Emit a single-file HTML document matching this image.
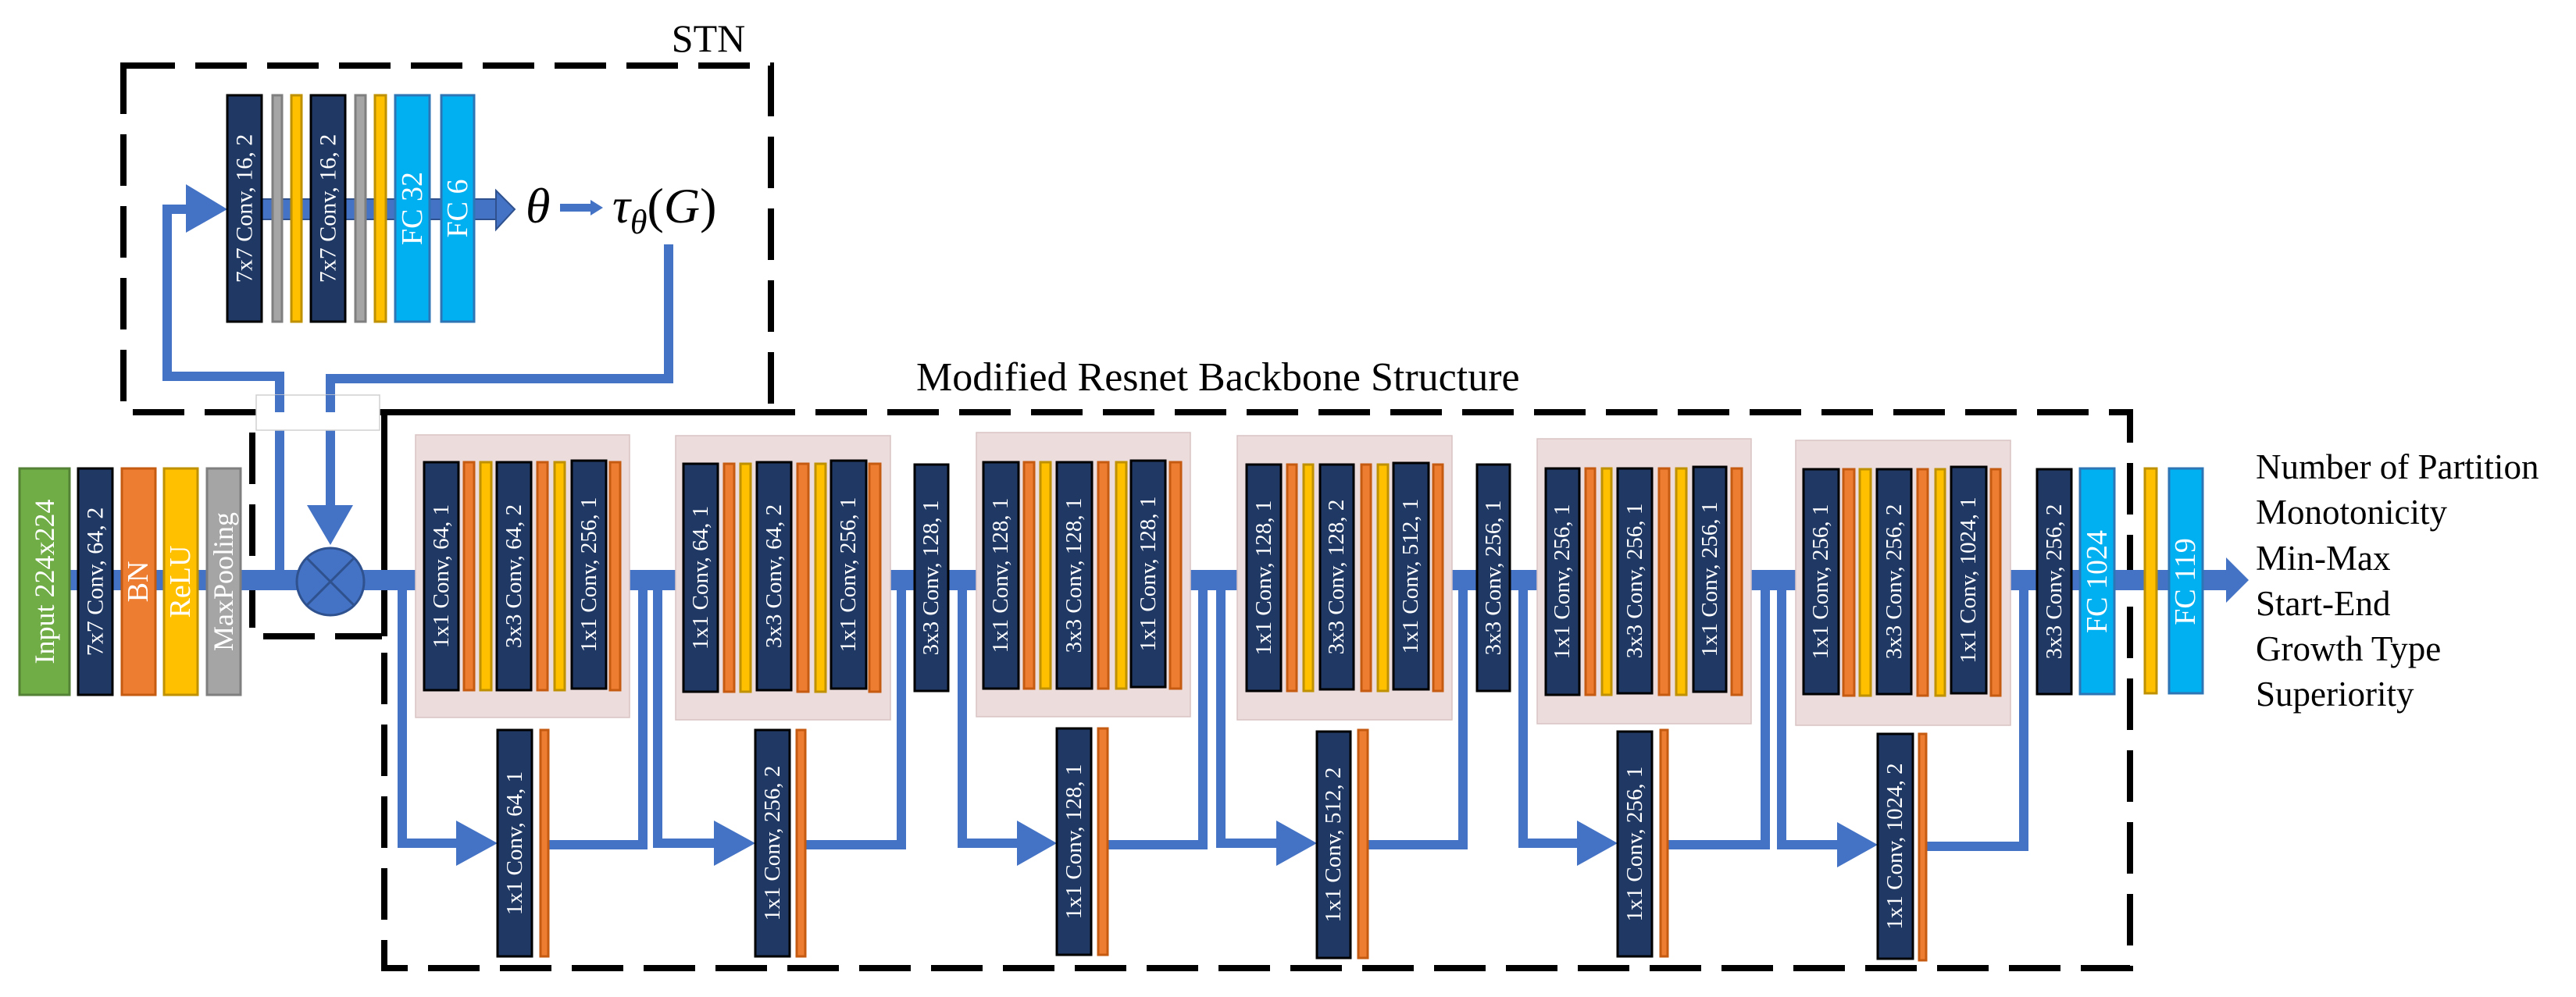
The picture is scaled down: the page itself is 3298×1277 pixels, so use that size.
<!DOCTYPE html>
<html><head><meta charset="utf-8"><style>
html,body{margin:0;padding:0;background:#fff;}
svg{display:block;}
text{font-family:"Liberation Serif",serif;}
.w{fill:#fff;text-anchor:middle;dominant-baseline:central;}
.nv{fill:#203864;stroke:#000;stroke-width:3;}
.or{fill:#ed7d31;stroke:#c55a11;stroke-width:3;}
.ye{fill:#ffc000;stroke:#bf9000;stroke-width:3;}
.gr{fill:#a5a5a5;stroke:#7f7f7f;stroke-width:3;}
.cy{fill:#00b0f0;stroke:#2e75b6;stroke-width:3;}
.pk{fill:#ecdcdc;stroke:#d9c3c3;stroke-width:1.5;}
.ln{stroke:#4472c4;stroke-width:12;fill:none;}
.ds{stroke:#000;stroke-width:8;fill:none;stroke-dasharray:66 26;}
</style></head><body>
<svg width="3298" height="1277" viewBox="0 0 3298 1277" xmlns="http://www.w3.org/2000/svg">
<!-- STN box -->
<text x="907" y="66" font-size="50" text-anchor="middle">STN</text>
<path class="ds" d="M158 84 H987 V528 H158 Z"/>
<!-- STN loops -->
<path class="ln" d="M240 268 H214 V482 H358 V742"/>
<polygon points="238,236 291,268 238,298" fill="#4472c4"/>
<path class="ln" d="M856 313 V485 H423 V650"/>
<polygon points="393,647 452,647 423,698" fill="#4472c4"/>
<!-- STN main arrow -->
<rect x="291" y="255" width="345" height="26" fill="#4472c4" stroke="#2f528f" stroke-width="2"/>
<polygon points="635,244 659,268 635,294" fill="#4472c4" stroke="#2f528f" stroke-width="2"/>
<rect class="nv" x="291" y="122" width="44" height="290"/><text class="w" font-size="30" transform="translate(313,267) rotate(-90)">7x7 Conv, 16, 2</text>
<rect class="gr" x="349" y="122" width="12" height="290"/>
<rect class="ye" x="373" y="122" width="13" height="290"/>
<rect class="nv" x="398" y="122" width="44" height="290"/><text class="w" font-size="30" transform="translate(420,267) rotate(-90)">7x7 Conv, 16, 2</text>
<rect class="gr" x="455" y="122" width="13" height="290"/>
<rect class="ye" x="480" y="122" width="14" height="290"/>
<rect class="cy" x="506" y="122" width="44" height="290"/><text class="w" font-size="38" transform="translate(528,267) rotate(-90)">FC 32</text>
<rect class="cy" x="565" y="122" width="42" height="290"/><text class="w" font-size="38" transform="translate(586,267) rotate(-90)">FC 6</text>
<text x="673" y="285" font-size="64" font-style="italic" font-family="Liberation Serif">θ</text>
<line x1="717" y1="266" x2="758" y2="266" stroke="#4472c4" stroke-width="10"/>
<polygon points="756,256 772,266 756,276" fill="#4472c4"/>
<text x="784" y="285" font-size="64" font-style="italic">τ<tspan font-size="44" dy="14">θ</tspan><tspan dy="-14" font-style="normal">(</tspan>G<tspan font-style="normal">)</tspan></text>
<!-- white box -->
<rect x="328" y="506" width="158" height="45" fill="#fff" stroke="#d0d0d0" stroke-width="1.5"/>
<!-- small dashed box -->
<path class="ds" d="M323 554 V804"/>
<path class="ds" d="M337 815 H489"/>
<!-- main box -->
<text x="1173" y="500" font-size="52">Modified Resnet Backbone Structure</text>
<path class="ds" d="M492 528 H2727 V1240 H492 Z"/>
<path d="M492 528 H1010 M492 528 V815" stroke="#000" stroke-width="8"/>
<path d="M358 506 V528" stroke="#4472c4" stroke-width="12"/>
<path d="M423 506 V528" stroke="#4472c4" stroke-width="12"/>
<!-- main line -->
<rect x="89" y="730" width="2763" height="26" fill="#4472c4"/>
<polygon points="2850,714 2879,743 2850,772" fill="#4472c4"/>
<circle cx="423" cy="745" r="43" fill="#4472c4" stroke="#2f528f" stroke-width="3"/>
<path d="M393 715 L453 775 M453 715 L393 775" stroke="#2f528f" stroke-width="3"/>
<!-- input blocks -->
<rect x="25" y="600" width="64" height="290" fill="#70ad47" stroke="#538135" stroke-width="3"/><text class="w" font-size="36" transform="translate(57,745) rotate(-90)">Input 224x224</text>
<rect class="nv" x="100" y="600" width="44" height="290"/><text class="w" font-size="30" transform="translate(122,745) rotate(-90)">7x7 Conv, 64, 2</text>
<rect class="or" x="156" y="600" width="43" height="290"/><text class="w" font-size="38" transform="translate(177,745) rotate(-90)">BN</text>
<rect class="ye" x="210" y="600" width="43" height="290"/><text class="w" font-size="38" transform="translate(231,745) rotate(-90)">ReLU</text>
<rect class="gr" x="265" y="600" width="43" height="290"/><text class="w" font-size="36" transform="translate(286,745) rotate(-90)">MaxPooling</text>
<!-- skip connections -->
<path class="ln" d="M515 756 V1080 H590"/><polygon points="584,1051 637,1080 584,1109" fill="#4472c4"/><path class="ln" d="M702 1082 H823 V756"/>
<path class="ln" d="M842 756 V1080 H920"/><polygon points="914,1051 967,1080 914,1109" fill="#4472c4"/><path class="ln" d="M1031 1082 H1154 V756"/>
<path class="ln" d="M1232 756 V1080 H1308"/><polygon points="1302,1051 1353,1080 1302,1109" fill="#4472c4"/><path class="ln" d="M1418 1082 H1540 V756"/>
<path class="ln" d="M1563 756 V1080 H1640"/><polygon points="1634,1051 1686,1080 1634,1109" fill="#4472c4"/><path class="ln" d="M1751 1082 H1873 V756"/>
<path class="ln" d="M1950 756 V1080 H2025"/><polygon points="2019,1051 2071,1080 2019,1109" fill="#4472c4"/><path class="ln" d="M2135 1082 H2260 V756"/>
<path class="ln" d="M2281 756 V1082 H2358"/><polygon points="2352,1053 2404,1082 2352,1111" fill="#4472c4"/><path class="ln" d="M2466 1084 H2591 V756"/>
<!-- pink blocks -->
<rect class="pk" x="532" y="557" width="274" height="362"/>
<rect class="pk" x="865" y="558" width="275" height="364"/>
<rect class="pk" x="1250" y="554" width="274" height="364"/>
<rect class="pk" x="1584" y="558" width="275" height="364"/>
<rect class="pk" x="1968" y="562" width="274" height="365"/>
<rect class="pk" x="2299" y="564" width="275" height="365"/>
<!-- block 1 -->
<rect class="nv" x="543" y="592" width="44" height="292"/><text class="w" font-size="29" transform="translate(565,738) rotate(-90)">1x1 Conv, 64, 1</text>
<rect class="or" x="594" y="592" width="13" height="292"/><rect class="ye" x="615" y="592" width="14" height="292"/>
<rect class="nv" x="636" y="592" width="44" height="292"/><text class="w" font-size="29" transform="translate(658,738) rotate(-90)">3x3 Conv, 64, 2</text>
<rect class="or" x="688" y="592" width="13" height="292"/><rect class="ye" x="710" y="592" width="13" height="292"/>
<rect class="nv" x="732" y="590" width="44" height="292"/><text class="w" font-size="29" transform="translate(754,736) rotate(-90)">1x1 Conv, 256, 1</text>
<rect class="or" x="781" y="592" width="13" height="292"/>
<!-- block 2 -->
<rect class="nv" x="875" y="594" width="44" height="292"/><text class="w" font-size="29" transform="translate(897,740) rotate(-90)">1x1 Conv, 64, 1</text>
<rect class="or" x="927" y="594" width="13" height="292"/><rect class="ye" x="948" y="594" width="13" height="292"/>
<rect class="nv" x="969" y="592" width="44" height="292"/><text class="w" font-size="29" transform="translate(991,738) rotate(-90)">3x3 Conv, 64, 2</text>
<rect class="or" x="1021" y="594" width="14" height="292"/><rect class="ye" x="1044" y="594" width="13" height="292"/>
<rect class="nv" x="1064" y="590" width="45" height="292"/><text class="w" font-size="29" transform="translate(1086,736) rotate(-90)">1x1 Conv, 256, 1</text>
<rect class="or" x="1113" y="594" width="14" height="292"/>
<!-- standalone 128 -->
<rect class="nv" x="1171" y="595" width="43" height="290"/><text class="w" font-size="29" transform="translate(1192,740) rotate(-90)">3x3 Conv, 128, 1</text>
<!-- block 3 -->
<rect class="nv" x="1259" y="592" width="45" height="290"/><text class="w" font-size="29" transform="translate(1281,737) rotate(-90)">1x1 Conv, 128, 1</text>
<rect class="or" x="1311" y="592" width="13" height="290"/><rect class="ye" x="1332" y="592" width="13" height="290"/>
<rect class="nv" x="1353" y="592" width="45" height="290"/><text class="w" font-size="29" transform="translate(1375,737) rotate(-90)">3x3 Conv, 128, 1</text>
<rect class="or" x="1406" y="592" width="13" height="290"/><rect class="ye" x="1429" y="592" width="13" height="290"/>
<rect class="nv" x="1448" y="590" width="44" height="290"/><text class="w" font-size="29" transform="translate(1470,735) rotate(-90)">1x1 Conv, 128, 1</text>
<rect class="or" x="1498" y="592" width="14" height="290"/>
<!-- block 4 -->
<rect class="nv" x="1596" y="595" width="44" height="290"/><text class="w" font-size="29" transform="translate(1618,740) rotate(-90)">1x1 Conv, 128, 1</text>
<rect class="or" x="1648" y="595" width="12" height="290"/><rect class="ye" x="1669" y="595" width="12" height="290"/>
<rect class="nv" x="1690" y="595" width="43" height="288"/><text class="w" font-size="29" transform="translate(1711,739) rotate(-90)">3x3 Conv, 128, 2</text>
<rect class="or" x="1743" y="595" width="12" height="290"/><rect class="ye" x="1764" y="595" width="13" height="290"/>
<rect class="nv" x="1784" y="593" width="45" height="290"/><text class="w" font-size="29" transform="translate(1806,738) rotate(-90)">1x1 Conv, 512, 1</text>
<rect class="or" x="1835" y="595" width="12" height="290"/>
<!-- standalone 256 -->
<rect class="nv" x="1891" y="595" width="42" height="290"/><text class="w" font-size="29" transform="translate(1912,740) rotate(-90)">3x3 Conv, 256, 1</text>
<!-- block 5 -->
<rect class="nv" x="1979" y="600" width="43" height="290"/><text class="w" font-size="29" transform="translate(2000,745) rotate(-90)">1x1 Conv, 256, 1</text>
<rect class="or" x="2030" y="600" width="12" height="290"/><rect class="ye" x="2051" y="600" width="12" height="290"/>
<rect class="nv" x="2071" y="600" width="44" height="288"/><text class="w" font-size="29" transform="translate(2093,744) rotate(-90)">3x3 Conv, 256, 1</text>
<rect class="or" x="2124" y="600" width="13" height="290"/><rect class="ye" x="2146" y="600" width="13" height="290"/>
<rect class="nv" x="2168" y="598" width="42" height="288"/><text class="w" font-size="29" transform="translate(2189,742) rotate(-90)">1x1 Conv, 256, 1</text>
<rect class="or" x="2217" y="600" width="13" height="290"/>
<!-- block 6 -->
<rect class="nv" x="2309" y="601" width="45" height="288"/><text class="w" font-size="29" transform="translate(2331,745) rotate(-90)">1x1 Conv, 256, 1</text>
<rect class="or" x="2360" y="601" width="14" height="290"/><rect class="ye" x="2381" y="601" width="14" height="290"/>
<rect class="nv" x="2403" y="601" width="44" height="288"/><text class="w" font-size="29" transform="translate(2425,745) rotate(-90)">3x3 Conv, 256, 2</text>
<rect class="or" x="2455" y="601" width="13" height="290"/><rect class="ye" x="2478" y="601" width="12" height="290"/>
<rect class="nv" x="2498" y="598" width="45" height="290"/><text class="w" font-size="29" transform="translate(2520,743) rotate(-90)">1x1 Conv, 1024, 1</text>
<rect class="or" x="2549" y="601" width="12" height="290"/>
<!-- final -->
<rect class="nv" x="2608" y="601" width="44" height="288"/><text class="w" font-size="29" transform="translate(2630,745) rotate(-90)">3x3 Conv, 256, 2</text>
<rect class="cy" x="2663" y="600" width="44" height="289"/><text class="w" font-size="38" transform="translate(2685,745) rotate(-90)">FC 1024</text>
<rect class="ye" x="2746" y="600" width="15" height="288"/>
<rect class="cy" x="2777" y="600" width="43" height="288"/><text class="w" font-size="38" transform="translate(2798,745) rotate(-90)">FC 119</text>
<!-- bottom convs -->
<rect class="nv" x="637" y="935" width="44" height="290"/><text class="w" font-size="29" transform="translate(659,1080) rotate(-90)">1x1 Conv, 64, 1</text><rect class="or" x="692" y="935" width="10" height="290"/>
<rect class="nv" x="967" y="935" width="44" height="290"/><text class="w" font-size="29" transform="translate(989,1080) rotate(-90)">1x1 Conv, 256, 2</text><rect class="or" x="1020" y="935" width="11" height="290"/>
<rect class="nv" x="1353" y="933" width="44" height="290"/><text class="w" font-size="29" transform="translate(1375,1078) rotate(-90)">1x1 Conv, 128, 1</text><rect class="or" x="1406" y="933" width="12" height="290"/>
<rect class="nv" x="1686" y="937" width="43" height="290"/><text class="w" font-size="29" transform="translate(1707,1082) rotate(-90)">1x1 Conv, 512, 2</text><rect class="or" x="1739" y="935" width="12" height="292"/>
<rect class="nv" x="2071" y="937" width="44" height="288"/><text class="w" font-size="29" transform="translate(2093,1081) rotate(-90)">1x1 Conv, 256, 1</text><rect class="or" x="2126" y="935" width="9" height="290"/>
<rect class="nv" x="2404" y="940" width="45" height="288"/><text class="w" font-size="29" transform="translate(2426,1084) rotate(-90)">1x1 Conv, 1024, 2</text><rect class="or" x="2457" y="940" width="9" height="290"/>
<!-- outputs -->
<g font-size="45" fill="#000">
<text x="2888" y="613">Number of Partition</text>
<text x="2888" y="671">Monotonicity</text>
<text x="2888" y="730">Min-Max</text>
<text x="2888" y="788">Start-End</text>
<text x="2888" y="846">Growth Type</text>
<text x="2888" y="904">Superiority</text>
</g>
</svg>
</body></html>
